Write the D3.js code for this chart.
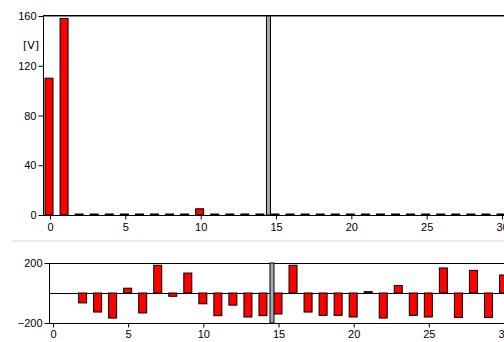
<!DOCTYPE html>
<html>
<head>
<meta charset="utf-8">
<script src="https://cdn.jsdelivr.net/npm/d3@7"></script>
<style>
  body { margin: 0; background: #fff; }
  svg { display: block; font-family: "DejaVu Sans", sans-serif; font-size: 11px; }
</style>
</head>
<body>
<div id="chart"></div>
<script>
// data
const samples = d3.range(0, 31);
const voltage = [110, 158, 0, 0, 0, 0, 0, 0, 0, 0, 5, 0, 0, 0, 0, 0,
                 0, 0, 0, 0, 0, 0, 0, 0, 0, 0, 0, 0, 0, 0, 0];
const delta = [null, null, -66, -127, -167, 32, -133, 185, -22, 133, -72, -151, -81, -160, -151, -140,
               185, -127, -149, -149, -160, 9, -167, 50, -149, -160, 167, -163, 151, -163, 120];
const topTicks = [0, 40, 80, 120, 160];
const bottomTicks = [-200, 200];
const xTicks = [0, 5, 10, 15, 20, 25, 30];
const breakAt = 14.5;

const W = 504, H = 342;
const svg = d3.select("#chart").append("svg").attr("width", W).attr("height", H);

// ---- top chart (voltage)
const x = d3.scaleLinear().domain([0, 30]).range([50, 502]);
const y = d3.scaleLinear().domain([0, 160]).range([215, 16]);
const upper = svg.append("g");

upper.append("line").attr("x1", 43).attr("x2", W).attr("y1", 15.5).attr("y2", 15.5).attr("stroke", "#000");
upper.append("line").attr("x1", 43).attr("x2", W).attr("y1", 16.5).attr("y2", 16.5).attr("stroke", "#888");

const yAxis = upper.append("g").attr("transform", "translate(43.5,0)")
  .call(d3.axisLeft(y).tickValues(topTicks).tickSize(5).tickPadding(2));
const xAxis = upper.append("g").attr("transform", "translate(0,215.5)")
  .call(d3.axisBottom(x).tickValues(xTicks).tickSize(4).tickPadding(4));
xAxis.select(".domain").attr("d", `M43,0H${W}`);
yAxis.select(".domain").attr("d", "M0,16V216");
[xAxis, yAxis].forEach(a => a.selectAll("text").attr("fill", "#000").style("font-size", "11px"));

upper.append("text").attr("x", 39).attr("y", 49).attr("text-anchor", "end").text("[V]");

upper.selectAll(".vbar").data(samples).join("rect")
  .attr("class", "vbar")
  .attr("x", i => x(i) - 5)
  .attr("width", 8)
  .attr("y", i => voltage[i] > 0 ? y(voltage[i]) : y(0) - 1)
  .attr("height", i => Math.max(1, y(0) - y(voltage[i])))
  .attr("fill", "#ff0000")
  .attr("stroke", "#000")
  .attr("stroke-width", 1);

upper.append("rect").attr("x", x(breakAt) - 2).attr("width", 4)
  .attr("y", 16).attr("height", 199)
  .attr("fill", "#aaa").attr("stroke", "#000");

// separator
svg.append("line").attr("x1", 12).attr("x2", W).attr("y1", 241).attr("y2", 241)
  .attr("stroke", "#ececec").attr("stroke-width", 2);

// ---- bottom chart (difference)
const xb = d3.scaleLinear().domain([0, 30]).range([53, 504]);
const yb = d3.scaleLinear().domain([-200, 200]).range([323, 263]);
const lower = svg.append("g");

lower.append("line").attr("x1", 49).attr("x2", W).attr("y1", 263.5).attr("y2", 263.5).attr("stroke", "#000");
lower.append("line").attr("x1", 49).attr("x2", W).attr("y1", yb(0) + 0.5).attr("y2", yb(0) + 0.5).attr("stroke", "#000");

const ybAxis = lower.append("g").attr("transform", "translate(49.5,0)")
  .call(d3.axisLeft(yb).tickValues(bottomTicks).tickSize(5).tickPadding(2));
const xbAxis = lower.append("g").attr("transform", "translate(0,323.5)")
  .call(d3.axisBottom(xb).tickValues(xTicks).tickSize(4).tickPadding(3));
xbAxis.select(".domain").attr("d", `M49,0H${W}`);
ybAxis.select(".domain").attr("d", "M0,263V324");
[xbAxis, ybAxis].forEach(a => a.selectAll("text").attr("fill", "#000").style("font-size", "11px"));

lower.selectAll(".dbar").data(samples.filter(i => delta[i] !== null)).join("rect")
  .attr("class", "dbar")
  .attr("x", i => xb(i) - 4.5)
  .attr("width", 8)
  .attr("y", i => yb(Math.max(0, delta[i])))
  .attr("height", i => Math.max(1, Math.abs(yb(delta[i]) - yb(0))))
  .attr("fill", "#ff0000")
  .attr("stroke", "#000")
  .attr("stroke-width", 1);

lower.append("rect").attr("x", xb(breakAt) - 1).attr("width", 4)
  .attr("y", 263).attr("height", 60)
  .attr("fill", "#aaa").attr("stroke", "#000");
</script>
</body>
</html>
